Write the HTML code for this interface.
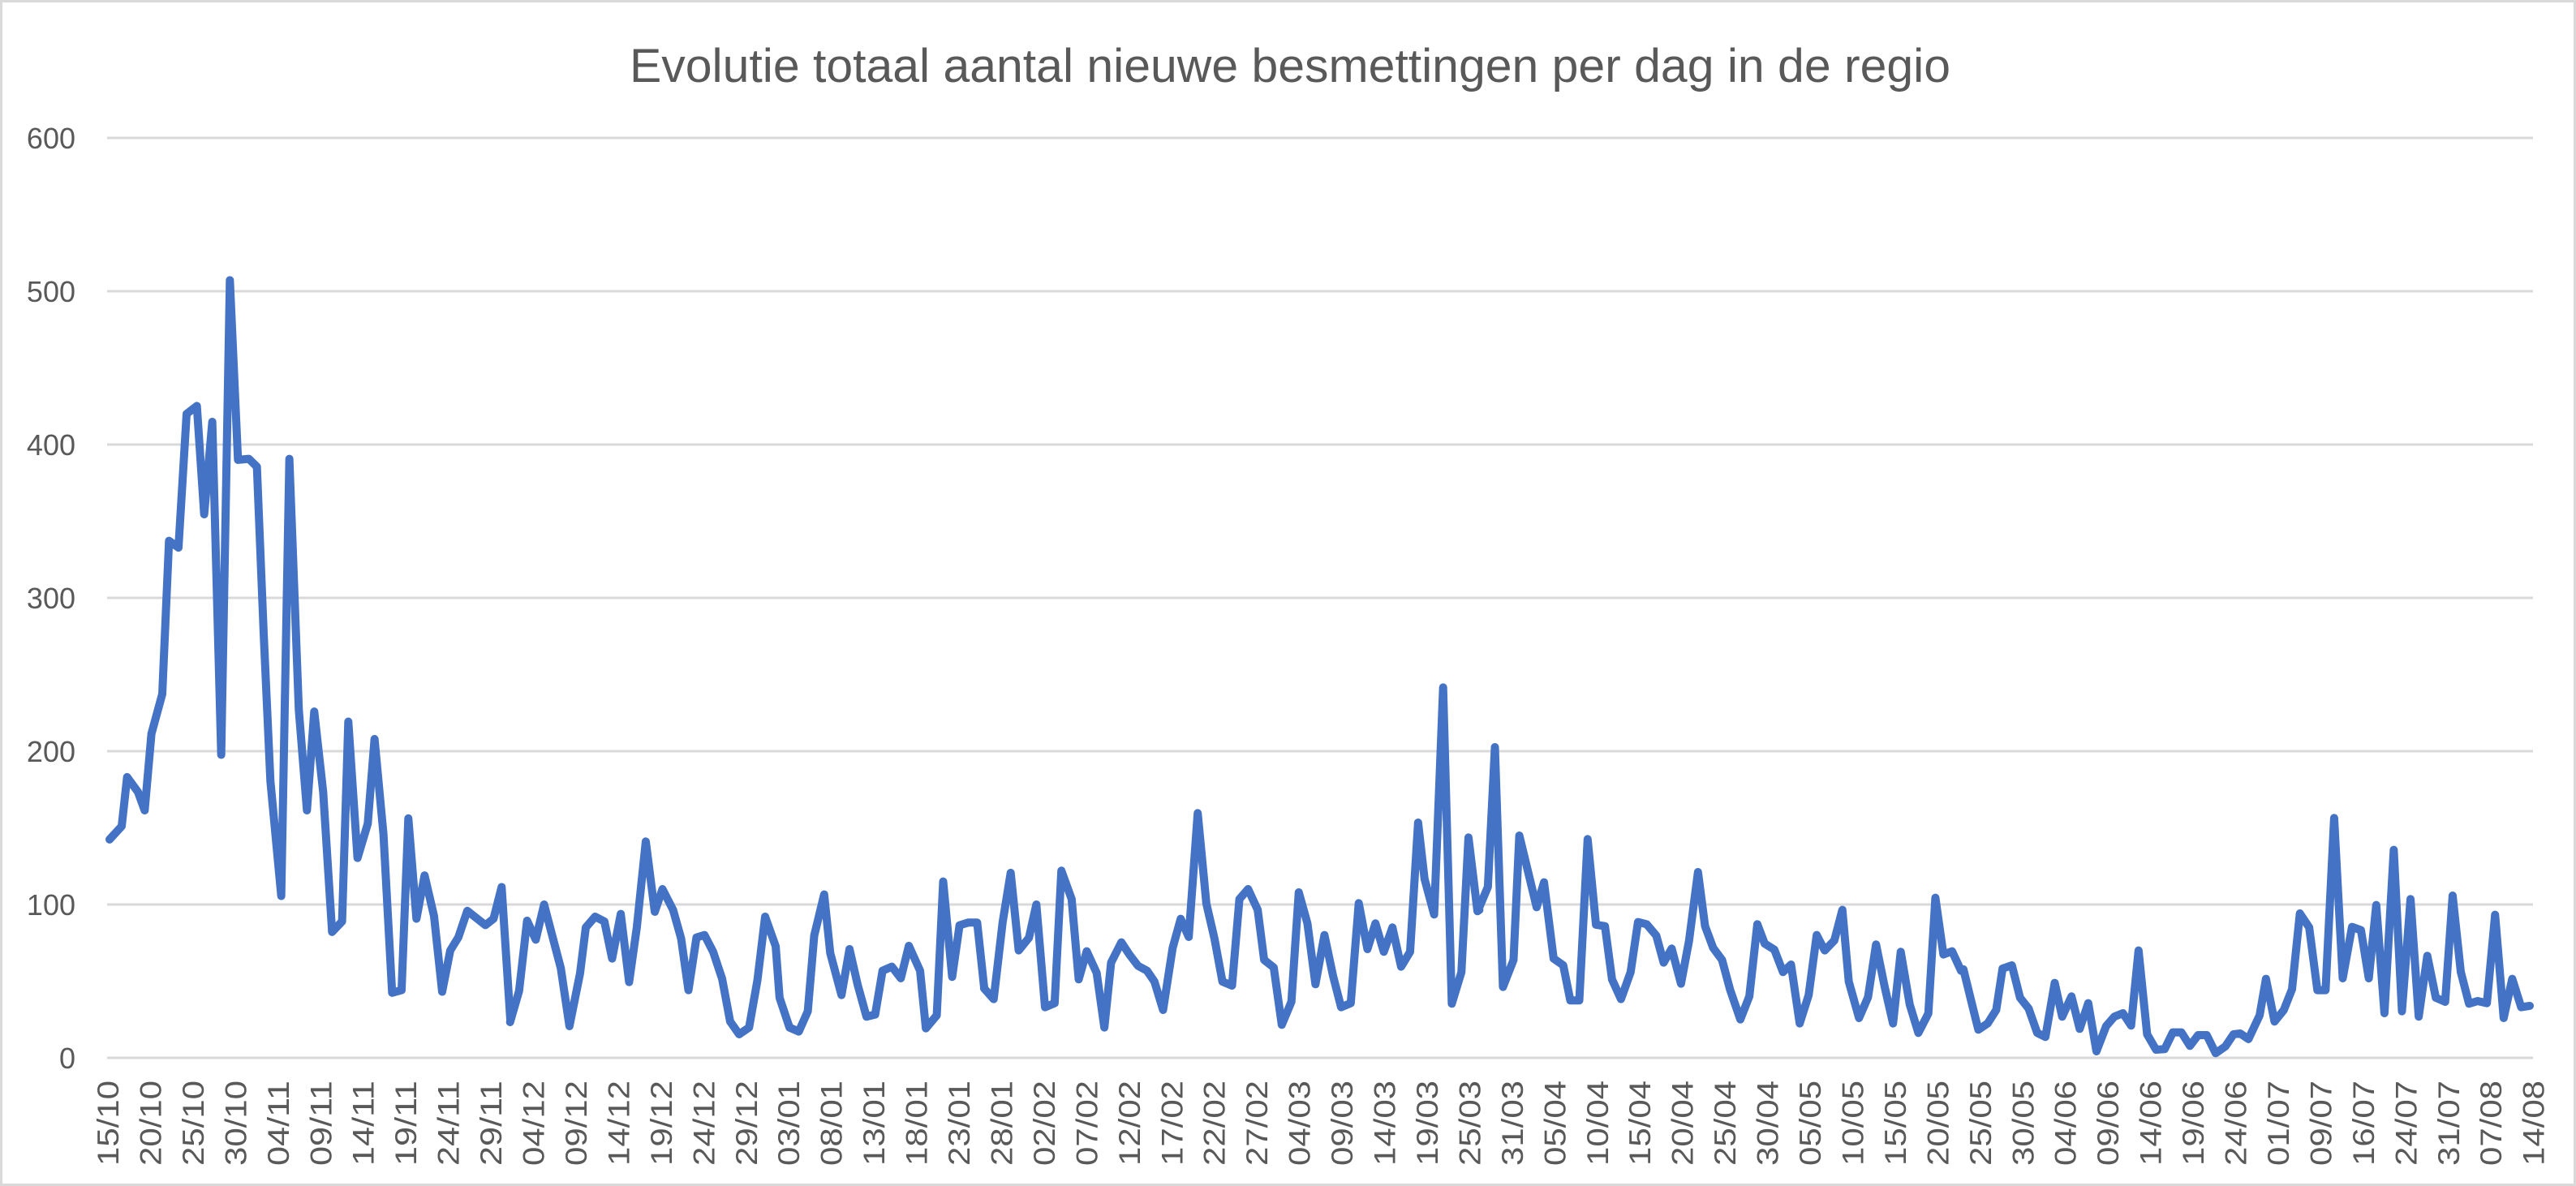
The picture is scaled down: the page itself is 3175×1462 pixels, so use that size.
<!DOCTYPE html>
<html><head><meta charset="utf-8"><style>
html,body{margin:0;padding:0;background:#fff;}
svg{display:block;}
</style></head><body>
<svg width="3175" height="1462" viewBox="0 0 3175 1462" xmlns="http://www.w3.org/2000/svg">
<rect x="1.5" y="1.5" width="3172" height="1459" fill="#fff" stroke="#d9d9d9" stroke-width="3"/>
<text x="1590" y="101" text-anchor="middle" font-family="Liberation Sans, sans-serif" font-size="58" fill="#595959" textLength="1628" lengthAdjust="spacingAndGlyphs">Evolutie totaal aantal nieuwe besmettingen per dag in de regio</text>
<g stroke="#d9d9d9" stroke-width="3">
<line x1="132" x2="3122" y1="1304" y2="1304"/>
<line x1="132" x2="3122" y1="1115" y2="1115"/>
<line x1="132" x2="3122" y1="926" y2="926"/>
<line x1="132" x2="3122" y1="737" y2="737"/>
<line x1="132" x2="3122" y1="548" y2="548"/>
<line x1="132" x2="3122" y1="359" y2="359"/>
<line x1="132" x2="3122" y1="170" y2="170"/>
</g>
<g font-family="Liberation Sans, sans-serif" font-size="36" fill="#595959" text-anchor="end">
<text x="93" y="1317">0</text>
<text x="93" y="1128">100</text>
<text x="93" y="939">200</text>
<text x="93" y="750">300</text>
<text x="93" y="561">400</text>
<text x="93" y="372">500</text>
<text x="93" y="183">600</text>
</g>
<g font-family="Liberation Sans, sans-serif" font-size="37" fill="#595959" text-anchor="end">
<text transform="translate(146.0,1332) rotate(-90)" textLength="105" lengthAdjust="spacingAndGlyphs">15/10</text>
<text transform="translate(198.5,1332) rotate(-90)" textLength="105" lengthAdjust="spacingAndGlyphs">20/10</text>
<text transform="translate(250.9,1332) rotate(-90)" textLength="105" lengthAdjust="spacingAndGlyphs">25/10</text>
<text transform="translate(303.4,1332) rotate(-90)" textLength="105" lengthAdjust="spacingAndGlyphs">30/10</text>
<text transform="translate(355.8,1332) rotate(-90)" textLength="105" lengthAdjust="spacingAndGlyphs">04/11</text>
<text transform="translate(408.3,1332) rotate(-90)" textLength="105" lengthAdjust="spacingAndGlyphs">09/11</text>
<text transform="translate(460.7,1332) rotate(-90)" textLength="105" lengthAdjust="spacingAndGlyphs">14/11</text>
<text transform="translate(513.2,1332) rotate(-90)" textLength="105" lengthAdjust="spacingAndGlyphs">19/11</text>
<text transform="translate(565.6,1332) rotate(-90)" textLength="105" lengthAdjust="spacingAndGlyphs">24/11</text>
<text transform="translate(618.1,1332) rotate(-90)" textLength="105" lengthAdjust="spacingAndGlyphs">29/11</text>
<text transform="translate(670.5,1332) rotate(-90)" textLength="105" lengthAdjust="spacingAndGlyphs">04/12</text>
<text transform="translate(723.0,1332) rotate(-90)" textLength="105" lengthAdjust="spacingAndGlyphs">09/12</text>
<text transform="translate(775.4,1332) rotate(-90)" textLength="105" lengthAdjust="spacingAndGlyphs">14/12</text>
<text transform="translate(827.9,1332) rotate(-90)" textLength="105" lengthAdjust="spacingAndGlyphs">19/12</text>
<text transform="translate(880.3,1332) rotate(-90)" textLength="105" lengthAdjust="spacingAndGlyphs">24/12</text>
<text transform="translate(932.8,1332) rotate(-90)" textLength="105" lengthAdjust="spacingAndGlyphs">29/12</text>
<text transform="translate(985.2,1332) rotate(-90)" textLength="105" lengthAdjust="spacingAndGlyphs">03/01</text>
<text transform="translate(1037.7,1332) rotate(-90)" textLength="105" lengthAdjust="spacingAndGlyphs">08/01</text>
<text transform="translate(1090.1,1332) rotate(-90)" textLength="105" lengthAdjust="spacingAndGlyphs">13/01</text>
<text transform="translate(1142.6,1332) rotate(-90)" textLength="105" lengthAdjust="spacingAndGlyphs">18/01</text>
<text transform="translate(1195.0,1332) rotate(-90)" textLength="105" lengthAdjust="spacingAndGlyphs">23/01</text>
<text transform="translate(1247.5,1332) rotate(-90)" textLength="105" lengthAdjust="spacingAndGlyphs">28/01</text>
<text transform="translate(1299.9,1332) rotate(-90)" textLength="105" lengthAdjust="spacingAndGlyphs">02/02</text>
<text transform="translate(1352.4,1332) rotate(-90)" textLength="105" lengthAdjust="spacingAndGlyphs">07/02</text>
<text transform="translate(1404.8,1332) rotate(-90)" textLength="105" lengthAdjust="spacingAndGlyphs">12/02</text>
<text transform="translate(1457.3,1332) rotate(-90)" textLength="105" lengthAdjust="spacingAndGlyphs">17/02</text>
<text transform="translate(1509.7,1332) rotate(-90)" textLength="105" lengthAdjust="spacingAndGlyphs">22/02</text>
<text transform="translate(1562.2,1332) rotate(-90)" textLength="105" lengthAdjust="spacingAndGlyphs">27/02</text>
<text transform="translate(1614.6,1332) rotate(-90)" textLength="105" lengthAdjust="spacingAndGlyphs">04/03</text>
<text transform="translate(1667.1,1332) rotate(-90)" textLength="105" lengthAdjust="spacingAndGlyphs">09/03</text>
<text transform="translate(1719.5,1332) rotate(-90)" textLength="105" lengthAdjust="spacingAndGlyphs">14/03</text>
<text transform="translate(1772.0,1332) rotate(-90)" textLength="105" lengthAdjust="spacingAndGlyphs">19/03</text>
<text transform="translate(1824.4,1332) rotate(-90)" textLength="105" lengthAdjust="spacingAndGlyphs">25/03</text>
<text transform="translate(1876.9,1332) rotate(-90)" textLength="105" lengthAdjust="spacingAndGlyphs">31/03</text>
<text transform="translate(1929.3,1332) rotate(-90)" textLength="105" lengthAdjust="spacingAndGlyphs">05/04</text>
<text transform="translate(1981.8,1332) rotate(-90)" textLength="105" lengthAdjust="spacingAndGlyphs">10/04</text>
<text transform="translate(2034.2,1332) rotate(-90)" textLength="105" lengthAdjust="spacingAndGlyphs">15/04</text>
<text transform="translate(2086.7,1332) rotate(-90)" textLength="105" lengthAdjust="spacingAndGlyphs">20/04</text>
<text transform="translate(2139.1,1332) rotate(-90)" textLength="105" lengthAdjust="spacingAndGlyphs">25/04</text>
<text transform="translate(2191.6,1332) rotate(-90)" textLength="105" lengthAdjust="spacingAndGlyphs">30/04</text>
<text transform="translate(2244.0,1332) rotate(-90)" textLength="105" lengthAdjust="spacingAndGlyphs">05/05</text>
<text transform="translate(2296.5,1332) rotate(-90)" textLength="105" lengthAdjust="spacingAndGlyphs">10/05</text>
<text transform="translate(2348.9,1332) rotate(-90)" textLength="105" lengthAdjust="spacingAndGlyphs">15/05</text>
<text transform="translate(2401.4,1332) rotate(-90)" textLength="105" lengthAdjust="spacingAndGlyphs">20/05</text>
<text transform="translate(2453.8,1332) rotate(-90)" textLength="105" lengthAdjust="spacingAndGlyphs">25/05</text>
<text transform="translate(2506.3,1332) rotate(-90)" textLength="105" lengthAdjust="spacingAndGlyphs">30/05</text>
<text transform="translate(2558.7,1332) rotate(-90)" textLength="105" lengthAdjust="spacingAndGlyphs">04/06</text>
<text transform="translate(2611.2,1332) rotate(-90)" textLength="105" lengthAdjust="spacingAndGlyphs">09/06</text>
<text transform="translate(2663.6,1332) rotate(-90)" textLength="105" lengthAdjust="spacingAndGlyphs">14/06</text>
<text transform="translate(2716.1,1332) rotate(-90)" textLength="105" lengthAdjust="spacingAndGlyphs">19/06</text>
<text transform="translate(2768.5,1332) rotate(-90)" textLength="105" lengthAdjust="spacingAndGlyphs">24/06</text>
<text transform="translate(2821.0,1332) rotate(-90)" textLength="105" lengthAdjust="spacingAndGlyphs">01/07</text>
<text transform="translate(2873.4,1332) rotate(-90)" textLength="105" lengthAdjust="spacingAndGlyphs">09/07</text>
<text transform="translate(2925.9,1332) rotate(-90)" textLength="105" lengthAdjust="spacingAndGlyphs">16/07</text>
<text transform="translate(2978.3,1332) rotate(-90)" textLength="105" lengthAdjust="spacingAndGlyphs">24/07</text>
<text transform="translate(3030.8,1332) rotate(-90)" textLength="105" lengthAdjust="spacingAndGlyphs">31/07</text>
<text transform="translate(3083.2,1332) rotate(-90)" textLength="105" lengthAdjust="spacingAndGlyphs">07/08</text>
<text transform="translate(3135.7,1332) rotate(-90)" textLength="105" lengthAdjust="spacingAndGlyphs">14/08</text>
</g>
<g fill="none" stroke="#4472C4" stroke-width="10" stroke-linejoin="round" stroke-linecap="round">
<polyline vector-effect="non-scaling-stroke" transform="translate(120,298.4) scale(0.3333,0.6517)" points="45,1130 90,1105 110,1012 150,1040 175,1075 200,930 240,855 265,565 300,578 330,325 368,310 395,515 425,340 458,970 490,72 520,412 560,410 590,425 615,740 640,1020 680,1237 710,410 745,885 775,1075 802,888 835,1040 868,1305 905,1285 928,907 962,1165 1000,1100 1025,940 1058,1120 1090,1420 1125,1415 1150,1090 1180,1280 1210,1198 1245,1275 1275,1418 1305,1340 1335,1315 1368,1265 1435,1292 1465,1280 1495,1220 1527,1470"/>
<polyline vector-effect="non-scaling-stroke" transform="translate(620,800) scale(0.3954,0.3333)" points="22,1380 50,1265 75,1005 102,1075 128,945 150,1045 180,1180 207,1395 240,1200 258,1030 287,990 316,1008 340,1145 367,980 393,1232 417,1030 445,712 473,972 497,888 530,965 555,1070 578,1262 603,1067 628,1058 655,1120 683,1220 708,1378 736,1425 767,1400 793,1225 817,990 850,1100 862,1290 893,1400 922,1415 950,1340 970,1060 1001,908 1020,1125 1055,1280 1080,1110 1105,1240 1133,1360 1160,1352 1183,1190 1212,1175 1240,1218 1265,1098 1300,1190 1318,1403 1352,1355 1372,860 1400,1213 1423,1022 1450,1012 1478,1012 1500,1255"/>
<polyline vector-effect="non-scaling-stroke" transform="translate(1220,800) scale(0.3954,0.3333)" points="-18,1255 12,1295 40,1010 65,828 90,1115 122,1068 145,945 172,1325 202,1310 223,820 255,925 277,1222 302,1118 333,1198 357,1400 378,1160 410,1085 435,1130 462,1172 490,1190 513,1230 540,1335 570,1105 595,998 620,1065 648,607 675,942 700,1070 725,1230 755,1245 778,925 805,888 835,965 855,1150 885,1178 910,1390 940,1305 963,900 990,1015 1015,1240 1043,1058 1070,1210 1095,1325 1125,1310 1150,940 1177,1110 1202,1015 1228,1120 1255,1030 1282,1175 1310,1120 1335,642 1355,850 1385,982 1413,142 1440,1312 1470,1195 1492,697 1520,970 1526,965"/>
<polyline vector-effect="non-scaling-stroke" transform="translate(1820,800) scale(0.3954,0.3333)" points="5,965 35,880 57,363 82,1250 115,1150 133,690 187,955 210,863 240,1145 270,1170 292,1300 320,1300 346,703 372,1020 400,1025 422,1222 450,1295 480,1195 503,1010 530,1018 560,1060 583,1160 608,1108 637,1238 662,1080 690,825 712,1025 737,1105 765,1150 790,1260 822,1370 850,1285 875,1018 898,1090 928,1112 955,1195 980,1167 1007,1385 1035,1280 1060,1058 1085,1115 1115,1078 1140,965 1160,1230 1192,1365 1220,1288 1245,1093 1272,1250 1298,1385 1322,1120 1350,1315 1377,1420 1408,1348 1430,920 1455,1130 1482,1118 1510,1190"/>
<polyline vector-effect="non-scaling-stroke" transform="translate(2420,800) scale(0.4592,0.3333)" points="0,1185 25,1325 40,1408 65,1385 88,1335 105,1182 130,1170 152,1290 175,1330 198,1420 220,1435 245,1235 265,1360 290,1285 312,1405 335,1310 357,1488 383,1395 405,1360 428,1347 450,1393 470,1115 493,1425 517,1482 540,1480 562,1418 585,1418 608,1468 630,1428 653,1428 677,1495 703,1470 725,1425 743,1422 765,1443 795,1355 812,1220 835,1378 860,1335 882,1258 903,978 928,1030 950,1262 972,1262 995,625 1018,1218 1043,1028 1067,1040 1088,1218 1108,947 1130,1347 1155,743 1177,1340 1200,925 1222,1360 1245,1135 1268,1290 1293,1305 1313,912 1335,1195 1357,1312 1380,1302 1405,1310 1427,983 1450,1365 1473,1220 1497,1325 1520,1320"/>
</g>
</svg>
</body></html>
